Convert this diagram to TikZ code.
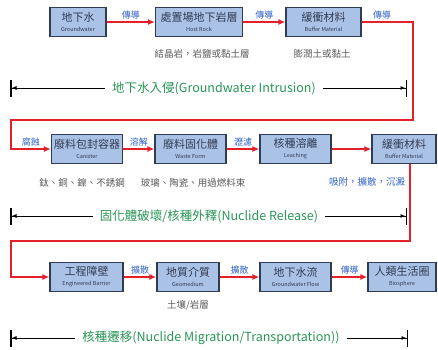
\documentclass[tikz,border=0pt]{standalone}
\usepackage{fontspec}
\setmainfont{Noto Sans CJK TC}
\usetikzlibrary{arrows.meta}
\definecolor{boxfill}{RGB}{170,194,230}
\definecolor{boxedge}{RGB}{48,60,84}
\definecolor{flowred}{RGB}{228,32,40}
\definecolor{lblblue}{RGB}{48,98,200}
\definecolor{phasegreen}{RGB}{40,150,85}
\newcommand{\boxtext}[2]{#1\\[-2pt]{\fontsize{5.5}{6}\selectfont #2}}

\begin{document}
\begin{tikzpicture}[x=1pt,y=-1pt,
    stage/.style={draw=boxedge,fill=boxfill,line width=1.2pt,inner sep=0pt,minimum height=29pt,align=center,text=boxedge,font=\fontsize{11}{12}\selectfont},
    flow/.style={flowred,line width=2pt,-{Latex[length=7pt,width=6pt]}},
    lbl/.style={text=lblblue,font=\fontsize{9}{10}\selectfont,inner sep=2pt},
    note/.style={text=black!65,font=\fontsize{9.5}{10}\selectfont},
    phase/.style={text=phasegreen,font=\fontsize{12.5}{14}\selectfont,inner sep=7pt},
    span/.style={line width=0.9pt,-{Latex[length=5pt,width=4pt]Bar[width=17pt,line width=1.5pt]}}]
      \useasboundingbox (0,0) rectangle (438,349);

      \node[stage,minimum width=56pt] (gw) at (78,22) {\boxtext{地下水}{Groundwater}};
      \node[stage,minimum width=87pt] (host) at (199,22) {\boxtext{處置場地下岩層}{Host Rock}};
      \node[stage,minimum width=75pt] (buf1) at (323.5,22) {\boxtext{緩衝材料}{Buffer Material}};

      \node[stage,minimum width=71pt] (can) at (87,149) {\boxtext{廢料包封容器}{Canister}};
      \node[stage,minimum width=71pt] (waste) at (190.5,149) {\boxtext{廢料固化體}{Waste Form}};
      \node[stage,minimum width=71pt] (leach) at (295.5,149) {\boxtext{核種溶離}{Leaching}};
      \node[stage,minimum width=64pt] (buf2) at (404,149) {\boxtext{緩衝材料}{Buffer Material}};

      \node[stage,minimum width=73pt] (eb) at (86.5,277) {\boxtext{工程障壁}{Engineered Barrier}};
      \node[stage,minimum width=62pt] (geo) at (188,277) {\boxtext{地質介質}{Geomedium}};
      \node[stage,minimum width=71pt] (gwf) at (295.5,277) {\boxtext{地下水流}{Groundwater Flow}};
      \node[stage,minimum width=68pt] (bio) at (402,277) {\boxtext{人類生活圈}{Biosphere}};

      \foreach \a/\b/\t in {gw/host/傳導, host/buf1/傳導, can/waste/溶解, waste/leach/瀝濾, eb/geo/擴散, geo/gwf/擴散, gwf/bio/傳導}{
          \draw[flow] (\a) -- node[lbl,above]{\t} (\b);
      }
      \draw[flow] (leach) -- (buf2);

      \coordinate (e1) at (413,120);
      \coordinate (w1) at (11,120);
      \draw[flow] (buf1.east) -| node[lbl,pos=0.2,above]{傳導} (e1) -- (w1) |- node[lbl,pos=0.75,above]{腐蝕} (can.west);

      \coordinate (e2) at (410,241);
      \coordinate (w2) at (11,241);
      \draw[flow] (buf2.south -| e2) -- (e2) -- (w2) |- (eb.west);

      \node[note] (hostnote) at (202,54) {結晶岩，岩鹽或黏土層};
      \node[note] (bufnote) at (322,54) {膨潤土或黏土};
      \node[note] (cannote) at (82,183) {鈦、銅、鎳、不銹鋼};
      \node[note] (wastenote) at (193,183) {玻璃、陶瓷、用過燃料束};
      \node[note,text=lblblue] (sorbnote) at (367,182) {吸附，擴散，沉澱};
      \node[note] (geonote) at (188,305) {土壤/岩層};

      \node[phase] (p1) at (214,88) {地下水入侵(Groundwater Intrusion)};
      \node[phase] (p2) at (209,216) {固化體破壞/核種外釋(Nuclide Release)};
      \node[phase] (p3) at (211,338) {核種遷移(Nuclide Migration/Transportation))};
      \foreach \p/\y/\r in {p1/88/407, p2/216/407, p3/338/408}{
          \coordinate (\p l) at (10,\y);
          \coordinate (\p r) at (\r,\y);
          \draw[span] (\p.west) -- (\p l);
          \draw[span] (\p.east) -- (\p r);
      }
\end{tikzpicture}
\end{document}
